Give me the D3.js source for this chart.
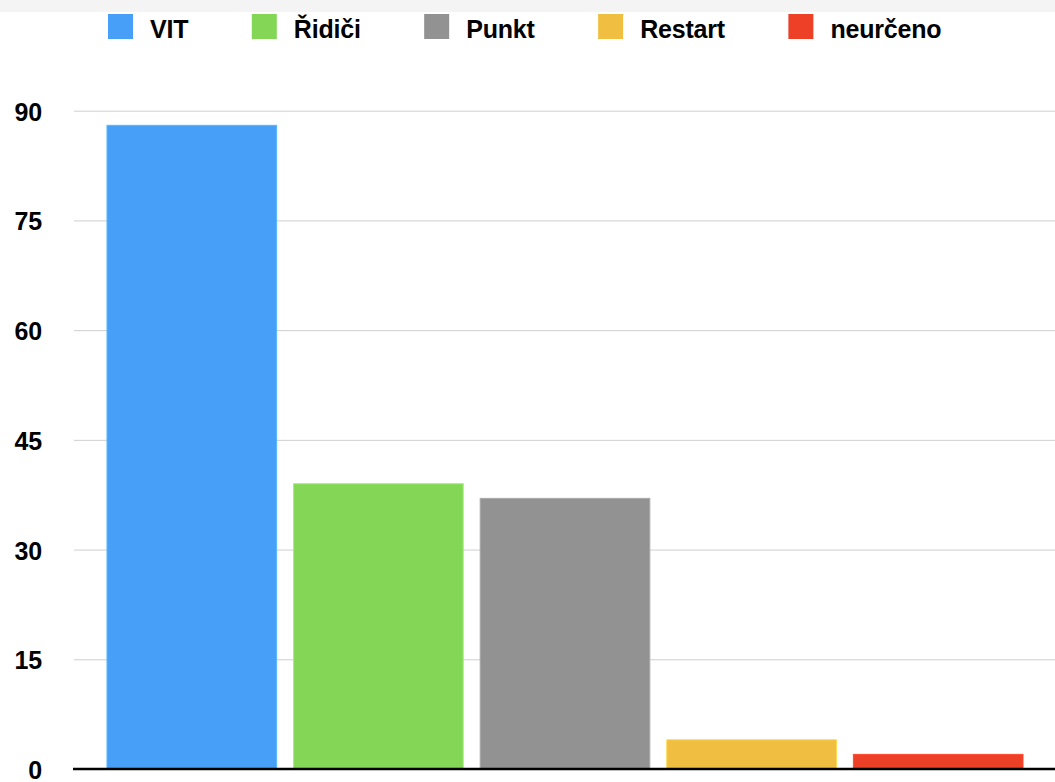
<!DOCTYPE html>
<html lang="cs">
<head>
    <meta charset="UTF-8">
    <title>Sloupcový graf</title>
    <script src="https://d3js.org/d3.v7.min.js"></script>
    <style>
        body {
            margin: 0;
            background: #fff;
            font-family: "Liberation Sans", Arial, sans-serif;
        }
        .tick text, .legend text {
            font-weight: bold;
            fill: #000;
            letter-spacing: -0.2px;
        }
        .grid line {
            stroke: #cfcfcf;
            stroke-width: 1;
        }
    </style>
</head>
<body>
    <svg width="1055" height="782"></svg>

    <script>
        const categories = ["VIT", "Řidiči", "Punkt", "Restart", "neurčeno"];
        const values = [88, 39, 37, 4, 2];
        const colors = ["#479ff8", "#84d657", "#929292", "#f0be41", "#ec4027"];
        const yTicks = [0, 15, 30, 45, 60, 75, 90];

        const svg = d3.select("svg");
        const plotLeft = 74, plotRight = 1055, plotTop = 110.7, plotBottom = 769;

        // faint band at the very top of the original screenshot
        svg.append("rect")
            .attr("x", 0).attr("y", 0)
            .attr("width", 1055).attr("height", 12)
            .attr("fill", "#f4f4f4");

        const x = d3.scaleBand()
            .domain(categories)
            .range([98.5, 1031.5])
            .paddingInner(0.091)
            .paddingOuter(0.0455);

        const y = d3.scaleLinear()
            .domain([0, 90])
            .range([plotBottom, plotTop]);

        // gridlines + labels
        const grid = svg.append("g")
            .attr("class", "grid")
            .attr("transform", `translate(${plotLeft},0)`)
            .call(d3.axisLeft(y)
                .tickValues(yTicks)
                .tickSize(-(plotRight - plotLeft))
                .tickPadding(32));
        grid.select(".domain").remove();
        grid.selectAll(".tick text")
            .attr("dy", "0.38em")
            .style("font-size", "25px");

        // bars
        svg.selectAll(".bar")
            .data(categories)
            .enter().append("rect")
            .attr("class", "bar")
            .attr("x", d => x(d))
            .attr("y", (d, i) => y(values[i]))
            .attr("width", x.bandwidth())
            .attr("height", (d, i) => y(0) - y(values[i]))
            .attr("fill", (d, i) => colors[i])
            .attr("stroke", (d, i) => d3.color(colors[i]).brighter(0.4))
            .attr("stroke-width", 1);

        // baseline
        svg.append("line")
            .attr("x1", plotLeft - 1).attr("x2", plotRight)
            .attr("y1", y(0)).attr("y2", y(0))
            .attr("stroke", "#000")
            .attr("stroke-width", 2.5);

        // legend
        const legend = svg.append("g").attr("class", "legend");
        let lx = 108;
        categories.forEach((c, i) => {
            const item = legend.append("g").attr("transform", `translate(${lx},0)`);
            item.append("rect")
                .attr("x", 0).attr("y", 14)
                .attr("width", 25).attr("height", 25)
                .attr("fill", colors[i]);
            const t = item.append("text")
                .attr("x", 42).attr("y", 38)
                .style("font-size", "25px")
                .text(c);
            lx += 42 + t.node().getComputedTextLength() + 63.5;
        });
    </script>
</body>
</html>
